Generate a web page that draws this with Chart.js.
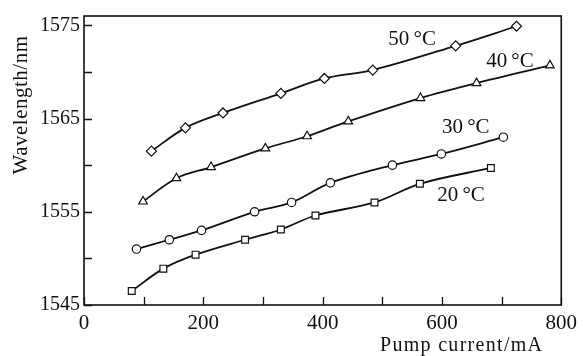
<!DOCTYPE html>
<html><head><meta charset="utf-8">
<script src="https://cdn.jsdelivr.net/npm/chart.js@4/dist/chart.umd.min.js"></script>
<style>html,body{margin:0;padding:0;background:#fff}#wrap{width:583px;height:356px}</style>
</head><body><div id="wrap"><canvas id="c" width="583" height="356"></canvas></div>
<script>
const x20 = [80, 133, 187, 270, 330, 388, 487, 563, 682];
const y20 = [1546.5, 1548.9, 1550.4, 1552.0, 1553.1, 1554.6, 1556.0, 1558.0, 1559.7];
const x30 = [88, 143, 197, 286, 348, 413, 517, 599, 703];
const y30 = [1551.0, 1552.0, 1553.0, 1555.0, 1556.0, 1558.1, 1560.0, 1561.2, 1563.0];
const x40 = [99, 155, 213, 304, 374, 443, 564, 658, 781];
const y40 = [1556.1, 1558.6, 1559.8, 1561.8, 1563.1, 1564.7, 1567.2, 1568.8, 1570.7];
const x50 = [113, 170, 233, 330, 403, 484, 623, 725];
const y50 = [1561.5, 1564.0, 1565.6, 1567.7, 1569.3, 1570.2, 1572.8, 1574.9];
const seriesLabels = ['20\u2009\u00B0C', '30\u2009\u00B0C', '40\u2009\u00B0C', '50\u2009\u00B0C'];
const labelX = [632, 640, 714, 550];
const labelY = [1556.7, 1564.0, 1571.1, 1573.5];
const xTickMajor = [0, 200, 400, 600, 800];
const xTickMinor = [100, 300, 500, 700];
const yTickMajor = [1545, 1555, 1565, 1575];
const yTickMinor = [1550, 1560, 1570];
const xTitle = 'Pump current/mA';
const yTitle = 'Wavelength/nm';

const FONT = '"Liberation Serif", "Times New Roman", serif';
const pts = (xs, ys) => xs.map((x, i) => ({x: x, y: ys[i]}));
const styles = ['rect', 'circle', 'triangle', 'rectRot'];
const radii = [4.8, 4.2, 5, 5];
const all = [[x20, y20], [x30, y30], [x40, y40], [x50, y50]];

const datasets = all.map((d, i) => ({
  label: seriesLabels[i],
  data: pts(d[0], d[1]),
  borderColor: '#111',
  backgroundColor: '#fff',
  borderWidth: 1.8,
  pointStyle: styles[i],
  pointRadius: radii[i],
  pointBorderWidth: 1.2,
  pointBackgroundColor: '#fff',
  pointBorderColor: '#111',
  tension: 0.35,
  fill: false
}));

const deco = {
  id: 'deco',
  afterDatasetsDraw(chart) {
    const ctx = chart.ctx, a = chart.chartArea;
    const xs = chart.scales.x, ys = chart.scales.y;
    ctx.save();
    ctx.strokeStyle = '#111';
    ctx.lineWidth = 1.6;
    ctx.strokeRect(a.left, a.top, a.right - a.left, a.bottom - a.top);
    ctx.lineWidth = 1.3;
    ctx.beginPath();
    xTickMajor.concat(xTickMinor).forEach(v => {
      const p = Math.round(xs.getPixelForValue(v)) + 0.5;
      ctx.moveTo(p, a.bottom); ctx.lineTo(p, a.bottom - 8);
    });
    yTickMajor.concat(yTickMinor).forEach(v => {
      const p = Math.round(ys.getPixelForValue(v)) + 0.5;
      ctx.moveTo(a.left, p); ctx.lineTo(a.left + 8, p);
    });
    ctx.stroke();
    ctx.fillStyle = '#111';
    ctx.font = '21px ' + FONT;
    ctx.textAlign = 'center';
    ctx.textBaseline = 'middle';
    seriesLabels.forEach((t, i) => {
      ctx.fillText(t, xs.getPixelForValue(labelX[i]), ys.getPixelForValue(labelY[i]));
    });
    ctx.font = '20px ' + FONT;
    ctx.textAlign = 'left';
    ctx.textBaseline = 'alphabetic';
    ctx.letterSpacing = '1.3px';
    ctx.fillText(xTitle, 380, 351);
    ctx.letterSpacing = '0.5px';
    ctx.font = '21px ' + FONT;
    ctx.translate(26.5, 105);
    ctx.rotate(-Math.PI / 2);
    ctx.textAlign = 'center';
    ctx.textBaseline = 'alphabetic';
    ctx.fillText(yTitle, 0, 0);
    ctx.restore();
  }
};

new Chart(document.getElementById('c'), {
  type: 'line',
  data: {datasets: datasets},
  options: {
    responsive: false,
    animation: false,
    devicePixelRatio: 1,
    layout: {padding: {top: 11, right: 19, left: 0, bottom: 0}},
    plugins: {legend: {display: false}, tooltip: {enabled: false}},
    scales: {
      x: {
        type: 'linear', min: 0, max: 800,
        afterBuildTicks: s => { s.ticks = xTickMajor.map(v => ({value: v})); },
        afterFit: s => { s.height = 51; },
        grid: {display: false, drawTicks: false},
        border: {display: false},
        ticks: {color: '#111', font: {family: FONT, size: 21}, padding: 6, maxRotation: 0,
          callback: v => String(v)}
      },
      y: {
        type: 'linear', min: 1545, max: 1576,
        afterBuildTicks: s => { s.ticks = yTickMajor.map(v => ({value: v})); },
        afterFit: s => { s.width = 84; },
        grid: {display: false, drawTicks: false},
        border: {display: false},
        ticks: {color: '#111', font: {family: FONT, size: 20}, padding: 4,
          callback: v => String(v)}
      }
    }
  },
  plugins: [deco]
});
</script>
</body></html>
